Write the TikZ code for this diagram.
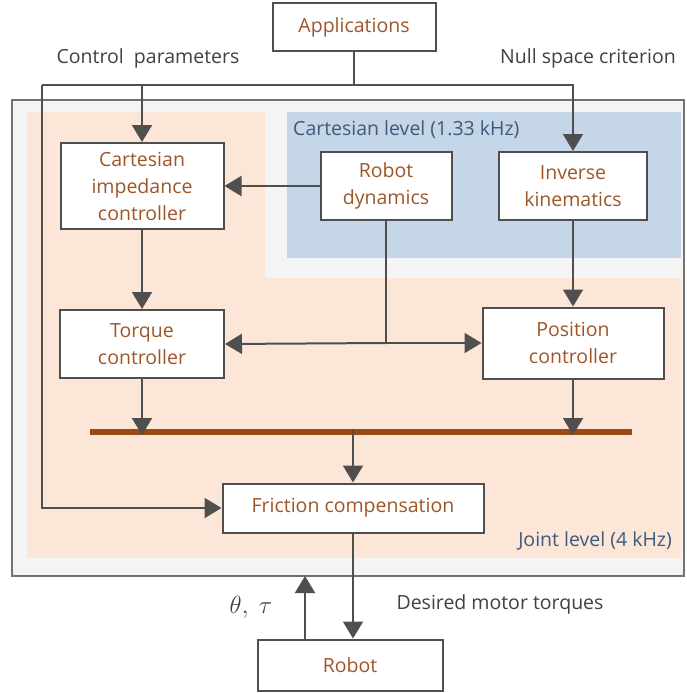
\documentclass[tikz,border=0pt]{standalone}
\usepackage{fontspec}
\setmainfont{Open Sans}
\usetikzlibrary{arrows.meta}
\definecolor{txtbrown}{HTML}{9E5628}
\definecolor{lbl}{HTML}{404040}
\definecolor{lvl}{HTML}{3F5A7A}
\definecolor{peach}{HTML}{FBE6D8}
\definecolor{bluebg}{HTML}{C4D6E7}
\definecolor{outerfill}{HTML}{F4F4F4}
\definecolor{ln}{HTML}{4F4F4F}
\definecolor{bus}{HTML}{9A4A16}
\tikzset{
  blk/.style={draw=ln, line width=2pt, fill=white, text=txtbrown, align=center,
    inner sep=0pt, font=\fontsize{19.5}{27}\selectfont},
  conn/.style={draw=ln, line width=2pt, -{Triangle[length=17pt,width=20pt]}},
  plain/.style={draw=ln, line width=2pt},
  lbltext/.style={text=lbl, font=\fontsize{19.5}{22}\selectfont, inner sep=0pt},
  lvltext/.style={text=lvl, font=\fontsize{19.5}{22}\selectfont, inner sep=0pt}
}
\begin{document}
\begin{tikzpicture}[x=1pt,y=-1pt]
\useasboundingbox (0,0) rectangle (686,693);
% backgrounds
\fill[outerfill, draw=ln!80, line width=2pt] (12,100) rectangle (684,576);
\fill[peach] (27,112) -- (265,112) -- (265,278) -- (681,278) -- (681,558) -- (27,558) -- cycle;
\fill[bluebg] (287,112) rectangle (681,258);
\node[lvltext, anchor=west] (cartlvl) at (293,130) {Cartesian level (1.33 kHz)};
\node[lvltext, anchor=east] (jointlvl) at (672,541) {Joint level (4 kHz)};
% labels
\node[lbltext] (cparam) at (148,58) {Control\ \ parameters};
\node[lbltext] (nullsp) at (588,58) {Null space criterion};
\node[lbltext] (dmt) at (500,604) {Desired motor torques};
\node[text=lbl, inner sep=0pt, font=\fontsize{24}{26}\selectfont] (thtau) at (251,607) {$\theta,\ \tau$};
% blocks
\node[blk, minimum width=163pt, minimum height=48pt] (apps) at (354,27) {Applications};
\node[blk, minimum width=163pt, minimum height=86pt] (cimp) at (142,186) {Cartesian\\impedance\\controller};
\node[blk, minimum width=131pt, minimum height=68pt] (rdyn) at (386,186) {Robot\\dynamics};
\node[blk, minimum width=148pt, minimum height=68pt] (ikin) at (573,186) {Inverse\\kinematics};
\node[blk, minimum width=164pt, minimum height=68pt] (torq) at (142,344) {Torque\\controller};
\node[blk, minimum width=181pt, minimum height=71pt] (posc) at (573,343) {Position\\controller};
\node[blk, minimum width=261pt, minimum height=49pt] (fric) at (353,508) {Friction compensation};
\node[blk, minimum width=185pt, minimum height=51pt] (robot) at (350,665) {Robot};
% coordinates
\coordinate (top) at (354,85);
\coordinate (topL) at (42,85);
\coordinate (botL) at (42,508);
\coordinate (dynj) at (386,343);
\coordinate (busL) at (90,432);
\coordinate (busR) at (632,432);
\coordinate (busM) at (353,432);
\coordinate (outB) at (305,576);
% connectors
\draw[plain] (apps.south) -- (top);
\draw[plain] (top) -- (topL);
\draw[conn] (topL) -- (botL) -- (fric.west);
\draw[conn] (cimp.north |- top) -- (cimp.north);
\draw[conn] (top) -| (ikin.north);
\draw[conn] (rdyn.west) -- (cimp.east);
\draw[plain] (rdyn.south) -- (dynj);
\draw[conn] (dynj) -- (torq.east);
\draw[conn] (dynj) -- (posc.west);
\draw[conn] (cimp.south) -- (torq.north);
\draw[conn] (ikin.south) -- (posc.north);
\draw[bus, line width=6pt] (busL) -- (busR);
\draw[conn] (torq.south) -- ([yshift=-3pt]torq.south |- busL);
\draw[conn] (posc.south) -- ([yshift=-3pt]posc.south |- busL);
\draw[conn] ([yshift=3pt]busM) -- (fric.north);
\draw[conn] (fric.south) -- (fric.south |- robot.north);
\draw[conn] (robot.north -| outB) -- (outB);
\end{tikzpicture}
\end{document}
